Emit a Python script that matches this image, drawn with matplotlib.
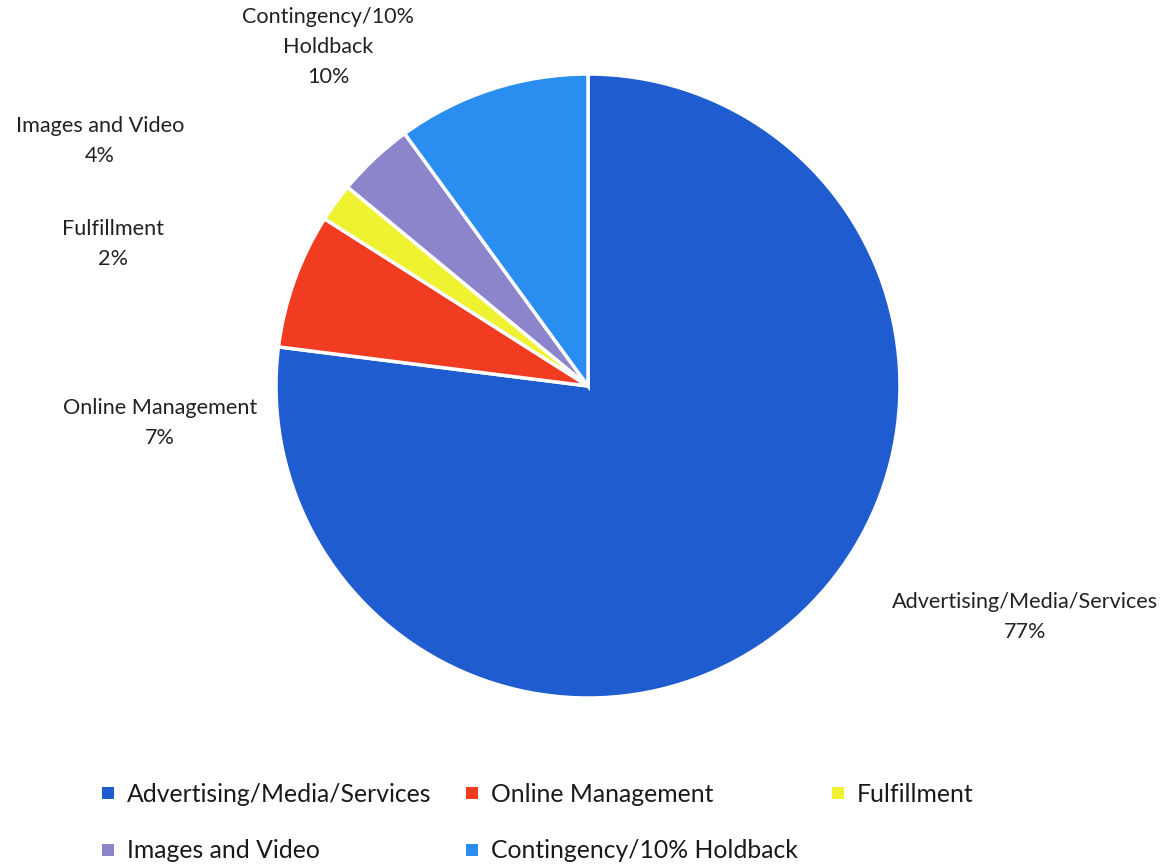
import matplotlib
matplotlib.use("Agg")
import matplotlib.pyplot as plt
from matplotlib.lines import Line2D

# Budget allocation data
categories = ["Advertising/Media/Services", "Online Management", "Fulfillment",
              "Images and Video", "Contingency/10% Holdback"]
shares = [77, 7, 2, 4, 10]
colors = ["#1F5CCF", "#F23C22", "#EEF230", "#8C85CB", "#2A8DF0"]

# Slice labels (text, centre x, centre y in pixels from top)
label_texts = ["Advertising/Media/Services", "Online Management", "Fulfillment",
               "Images and Video", "Contingency/10%\nHoldback"]
label_pos = [(1025, 617), (160, 423), (113, 244), (100, 141), (328, 47)]

W, H = 1165, 865
plt.rcParams["font.family"] = ["Lato", "DejaVu Sans"]

fig = plt.figure(figsize=(W / 100, H / 100), dpi=100)
ax = fig.add_axes([0, 0, 1, 1])
ax.set_xlim(0, W)
ax.set_ylim(0, H)
ax.set_aspect("equal")
ax.axis("off")

cx, cy, r = 588, 386, 312
wedges, _ = ax.pie(shares, colors=colors, startangle=90, counterclock=False,
                   center=(cx, H - cy), radius=r,
                   wedgeprops=dict(edgecolor="white", linewidth=2.5))
ax.set_xlim(0, W)
ax.set_ylim(0, H)

for txt, val, (x, y) in zip(label_texts, shares, label_pos):
    ax.text(x, H - y, f"{txt}\n{val}%", ha="center", va="center",
            fontsize=15.6, color="#222222", linespacing=1.6)

# Legend laid out row by row: reorder for matplotlib's column filling
order = [0, 3, 1, 4, 2]
handles = [Line2D([], [], marker="s", linestyle="", markersize=8,
                  color=colors[i], markeredgewidth=0) for i in order]
labels = [categories[i] for i in order]
leg = ax.legend(handles, labels, ncol=3, loc="upper left",
                bbox_to_anchor=(101 / W, 1 - 783 / H), bbox_transform=fig.transFigure,
                frameon=False, fontsize=17.8, handlelength=0.6, handletextpad=0.45,
                columnspacing=1.35, labelspacing=1.35, borderpad=0, borderaxespad=0)
for t in leg.get_texts():
    t.set_color("#1a1a1a")

fig.savefig("out.png", dpi=100, facecolor="white")
